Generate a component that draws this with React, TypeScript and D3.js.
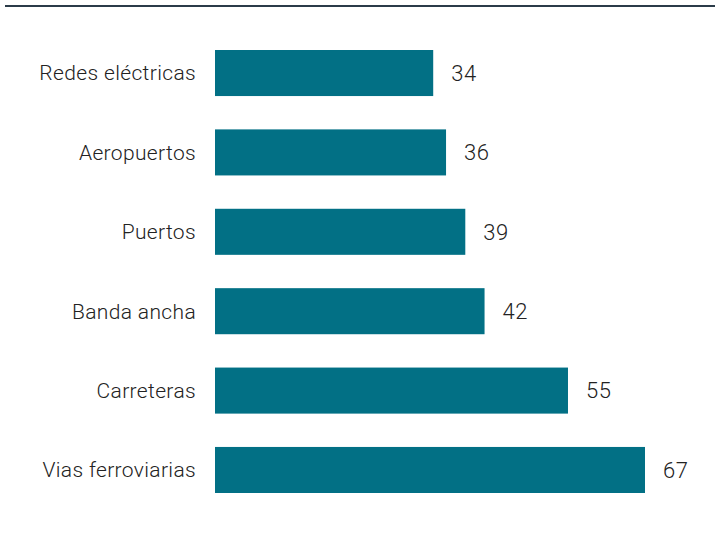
import React from "react";
import * as d3 from "d3";

const categories = [
  "Redes eléctricas",
  "Aeropuertos",
  "Puertos",
  "Banda ancha",
  "Carreteras",
  "Vias ferroviarias",
];
const values = [34, 36, 39, 42, 55, 67];

const W = 715;
const H = 536;

export default function App() {
  const x = d3.scaleLinear().domain([0, 67]).range([215, 645]);
  const y = d3
    .scaleBand<string>()
    .domain(categories)
    .range([50, 493])
    .paddingInner(0.42)
    .paddingOuter(0);
  const font = "Roboto, 'Open Sans', sans-serif";
  return (
    <svg
      width={W}
      height={H}
      style={{ position: "absolute", left: 0, top: 0, background: "#fff" }}
    >
      <line x1={5} x2={W} y1={6} y2={6} stroke="#2b3b49" strokeWidth={2} />
      {categories.map((c, i) => {
        const yy = y(c)!;
        const cy = yy + y.bandwidth() / 2;
        return (
          <g key={c}>
            <rect
              x={x(0)}
              y={yy}
              width={x(values[i]) - x(0)}
              height={y.bandwidth()}
              fill="#027085"
            />
            <text
              x={196}
              y={cy}
              dy="0.35em"
              textAnchor="end"
              fontFamily={font}
              fontWeight={300}
              fontSize={21}
              letterSpacing={0.35}
              fill="#222"
            >
              {c}
            </text>
            <text
              x={x(values[i]) + 18}
              y={cy}
              dy="0.35em"
              textAnchor="start"
              fontFamily={font}
              fontWeight={300}
              fontSize={22}
              letterSpacing={0.6}
              fill="#222"
            >
              {values[i]}
            </text>
          </g>
        );
      })}
    </svg>
  );
}
